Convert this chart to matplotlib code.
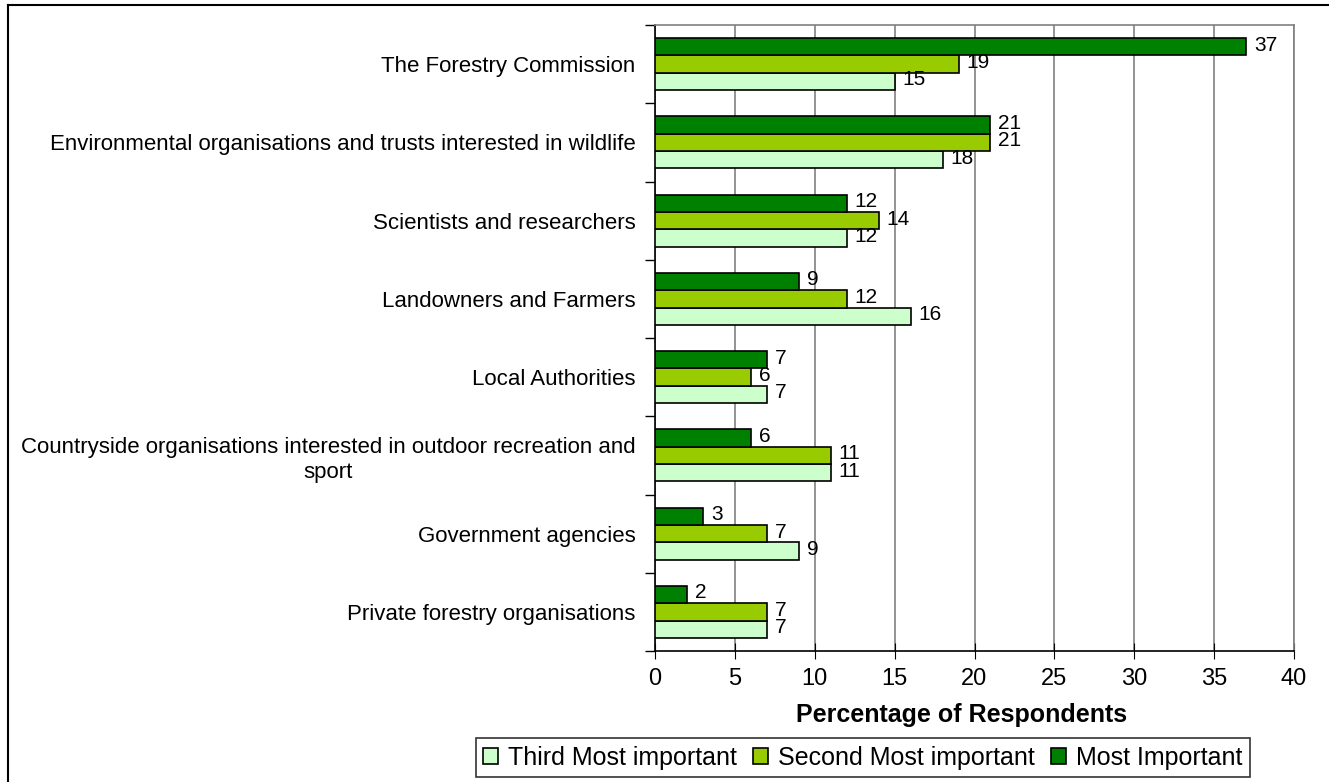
import matplotlib
matplotlib.use("Agg")
import matplotlib.pyplot as plt
import numpy as np
from matplotlib.lines import Line2D

plt.rcParams["font.family"] = ["Liberation Sans", "DejaVu Sans"]

categories = [
    "The Forestry Commission",
    "Environmental organisations and trusts interested in wildlife",
    "Scientists and researchers",
    "Landowners and Farmers",
    "Local Authorities",
    "Countryside organisations interested in outdoor recreation and\nsport",
    "Government agencies",
    "Private forestry organisations",
]
most_important = [37, 21, 12, 9, 7, 6, 3, 2]
second_important = [19, 21, 14, 12, 6, 11, 7, 7]
third_important = [15, 18, 12, 16, 7, 11, 9, 7]

C_MOST = "#008000"
C_SECOND = "#99CC00"
C_THIRD = "#CCFFCC"

fig = plt.figure(figsize=(13.29, 7.82), dpi=100)
ax = fig.add_axes([655 / 1329, 1 - 651 / 782, (1294 - 655) / 1329, (651 - 25) / 782])

n = len(categories)
y = np.arange(n)
bh = 0.222

series = [
    (third_important, C_THIRD, "Third Most important", bh),
    (second_important, C_SECOND, "Second Most important", 0),
    (most_important, C_MOST, "Most Important", -bh),
]
for vals, color, label, off in series:
    ax.barh(y + off, vals, height=bh, color=color, edgecolor="black",
            linewidth=1.2, label=label, zorder=3)
    for yy, v in zip(y + off, vals):
        ax.text(v + 0.5, yy - 0.02, str(v), ha="left", va="center",
                fontsize=15, zorder=4)

ax.set_ylim(n - 0.5, -0.5)
ax.set_xlim(0, 40)
ax.set_xticks(np.arange(0, 41, 5))
ax.set_yticks(y)
ax.set_yticklabels(categories, fontsize=16, multialignment="center",
                   linespacing=1.25)
ax.set_yticks(np.arange(-0.5, n, 1), minor=True)
ax.tick_params(axis="y", which="major", length=0, pad=14)
ax.tick_params(axis="y", which="minor", length=7, width=1)
ax.tick_params(axis="x", which="major", direction="inout", length=12,
               labelsize=17, pad=6)
ax.grid(axis="x", color="#808080", linewidth=1.2, zorder=0)
ax.set_xlabel("Percentage of Respondents", fontsize=18, fontweight="bold",
              labelpad=0)
ax.xaxis.set_label_coords(0.479, -0.083)

for side in ["top", "right"]:
    ax.spines[side].set_color("#808080")
    ax.spines[side].set_linewidth(1.2)
for side in ["left", "bottom"]:
    ax.spines[side].set_color("black")
    ax.spines[side].set_linewidth(1.2)

handles, labels = ax.get_legend_handles_labels()
leg = fig.legend(handles, labels, loc="center", ncol=3,
                 bbox_to_anchor=(863 / 1329, 1 - 757.5 / 782), fontsize=18,
                 frameon=True, fancybox=False, edgecolor="black",
                 handlelength=0.6, handleheight=0.6, handletextpad=0.4,
                 columnspacing=0.65, borderpad=0.3, borderaxespad=0)
leg.get_frame().set_linewidth(1.2)

# outer frame lines
fig.add_artist(Line2D([8 / 1329, 8 / 1329], [0, 1 - 5 / 782], color="black",
                      linewidth=1.5, transform=fig.transFigure))
fig.add_artist(Line2D([8 / 1329, 1], [1 - 5 / 782, 1 - 5 / 782], color="black",
                      linewidth=1.5, transform=fig.transFigure))

fig.savefig("out.png", dpi=100)
